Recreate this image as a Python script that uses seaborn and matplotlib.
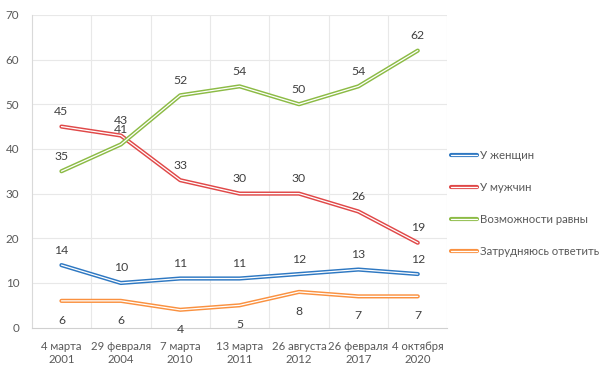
import matplotlib
matplotlib.use("Agg")
import matplotlib.pyplot as plt
import matplotlib.patheffects as pe
import seaborn as sns
import pandas as pd

categories = ["4 марта\n2001", "29 февраля\n2004", "7 марта\n2010", "13 марта\n2011",
              "26 августа\n2012", "26 февраля\n2017", "4 октября\n2020"]
women = [14, 10, 11, 11, 12, 13, 12]
men = [45, 43, 33, 30, 30, 26, 19]
equal = [35, 41, 52, 54, 50, 54, 62]
unsure = [6, 6, 4, 5, 8, 7, 7]
series_names = ["У женщин", "У мужчин", "Возможности равны", "Затрудняюсь ответить"]
series_values = [women, men, equal, unsure]
colors = ["#2E78C2", "#E04848", "#8CBB45", "#FA9140"]

rows = []
for name, vals in zip(series_names, series_values):
    for i, v in enumerate(vals):
        rows.append({"x": i, "y": v, "series": name})
df = pd.DataFrame(rows)

sns.set_style("white")
plt.rcParams['font.family'] = ['Lato', 'DejaVu Sans']

fig = plt.figure(figsize=(5.99, 3.91), dpi=100)
ax = fig.add_axes([0.053, 0.162, 0.694, 0.800])

sns.lineplot(data=df, x="x", y="y", hue="series", palette=dict(zip(series_names, colors)),
             hue_order=series_names, ax=ax, legend=False, sort=False)

for line, c in zip(ax.lines, colors):
    line.set_color("white")
    line.set_linewidth(0.9)
    line.set_path_effects([pe.Stroke(linewidth=3.0, foreground=c), pe.Normal()])

# data labels
for name, vals in zip(series_names, series_values):
    off = -14 if name == "Затрудняюсь ответить" else 10.8
    for i, v in enumerate(vals):
        ax.annotate(str(v), (i, v), xytext=(0, off), textcoords="offset points",
                    ha="center", va="center", fontsize=8.8, color="#404040")

ax.set_xlim(-0.5, 6.5)
ax.set_ylim(0, 70)
ax.set_yticks(range(0, 71, 10))
ax.set_xticks(range(7))
ax.set_xticklabels(categories)
ax.set_xlabel("")
ax.set_ylabel("")
ax.tick_params(axis="both", length=0, labelsize=8.4, labelcolor="#595959")
ax.tick_params(axis="x", labelsize=8.2, pad=9.5)
ax.tick_params(axis="y", pad=9)

for yv in range(10, 71, 10):
    ax.axhline(yv, color="#E8E8E8", lw=0.8, zorder=0)
for xv in [0.5, 1.5, 2.5, 3.5, 4.5, 5.5, 6.5]:
    ax.axvline(xv, color="#E8E8E8", lw=0.8, zorder=0)

for s in ["top", "right"]:
    ax.spines[s].set_visible(False)
ax.spines["left"].set_color("#D9D9D9")
ax.spines["left"].set_linewidth(0.8)
ax.spines["bottom"].set_color("#D0D0D0")
ax.spines["bottom"].set_linewidth(0.8)

handles = list(ax.lines[:4])
leg = fig.legend(handles, series_names, loc="center left", bbox_to_anchor=(0.735, 0.48),
                 frameon=False, fontsize=8.2, labelspacing=1.85, handlelength=2.3,
                 handletextpad=0.25, labelcolor="#595959")

fig.savefig("out.png", dpi=100)
